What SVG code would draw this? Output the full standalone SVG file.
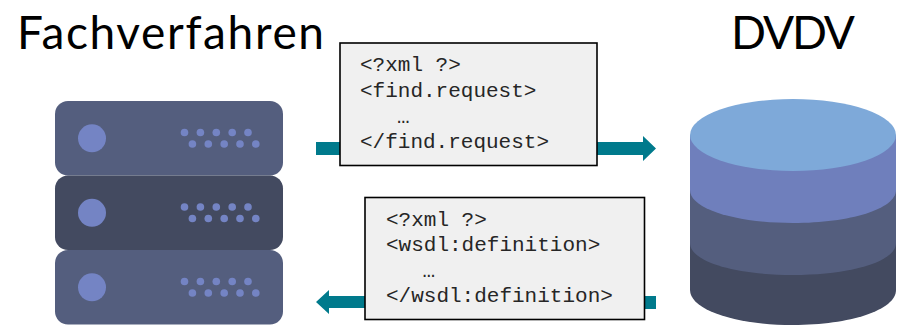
<svg xmlns="http://www.w3.org/2000/svg" width="903" height="325" viewBox="0 0 903 325">
<style>
.title{font-family:"Lato","Open Sans",sans-serif;font-size:46px;fill:#000}
.code{font-family:"Liberation Mono",monospace;font-size:21px;fill:#262626}
.box{fill:#f0f0f0;stroke:#000;stroke-width:1.6}
.arrow{fill:#007a8c}
.dot{fill:#7484c4}
</style>
<defs>
<g id="dots">
<circle class="dot" cx="92" cy="138.3" r="14"/>
<circle class="dot" cx="184.5" cy="132.5" r="3.8"/><circle class="dot" cx="200.4" cy="132.5" r="3.8"/><circle class="dot" cx="216.3" cy="132.5" r="3.8"/><circle class="dot" cx="232.2" cy="132.5" r="3.8"/><circle class="dot" cx="248" cy="132.5" r="3.8"/>
<circle class="dot" cx="192.4" cy="144" r="3.8"/><circle class="dot" cx="208.3" cy="144" r="3.8"/><circle class="dot" cx="224.2" cy="144" r="3.8"/><circle class="dot" cx="240" cy="144" r="3.8"/><circle class="dot" cx="255.8" cy="144" r="3.8"/>
</g>
</defs>
<g id="title-fachverfahren"><text class="title" x="17" y="49" textLength="307">Fachverfahren</text></g>
<g id="title-dvdv"><text class="title" x="731" y="49" textLength="124">DVDV</text></g>
<g id="connectors">
<rect class="arrow" x="316" y="142" width="25" height="13"/>
<path class="arrow" d="M596 142H643V136L656 148.500L643 161V155H596Z"/>
<path class="arrow" d="M366 296H329V290L316 302L329 314V308H366Z"/>
<rect class="arrow" x="644" y="296" width="12" height="13"/>
</g>
<g id="server">
<rect x="55" y="101" width="228" height="74.500" rx="13" fill="#545e7e"/>
<rect x="55" y="175.500" width="228" height="74.500" rx="13" fill="#434a60"/>
<rect x="55" y="250" width="228" height="74.500" rx="13" fill="#545e7e"/>
<use href="#dots"/>
<use href="#dots" y="74.500"/>
<use href="#dots" y="149"/>
</g>
<g id="database">
<path d="M690 290V243H896V290C896 310 850 325 793 325S690 310 690 290Z" fill="#434a60"/>
<path d="M690 243V190H896V243C896 262 850 275 793 275S690 262 690 243Z" fill="#545e7e"/>
<path d="M690 190V135H896V190C896 209 850 223 793 223S690 209 690 190Z" fill="#6f7fbc"/>
<ellipse cx="793" cy="135" rx="103" ry="36" fill="#7ea9d9"/>
</g>
<g id="request">
<rect class="box" x="340" y="43" width="257" height="122.500"/>
<text class="code" x="360" y="71">&lt;?xml ?&gt;</text>
<text class="code" x="360" y="96.500">&lt;find.request&gt;</text>
<text class="code" x="397" y="122.500">…</text>
<text class="code" x="360" y="147.500">&lt;/find.request&gt;</text>
</g>
<g id="response">
<rect class="box" x="365" y="197.500" width="279.500" height="122"/>
<text class="code" x="386" y="225.500">&lt;?xml ?&gt;</text>
<text class="code" x="386" y="251">&lt;wsdl:definition&gt;</text>
<text class="code" x="422.500" y="277">…</text>
<text class="code" x="386" y="302">&lt;/wsdl:definition&gt;</text>
</g>
</svg>
